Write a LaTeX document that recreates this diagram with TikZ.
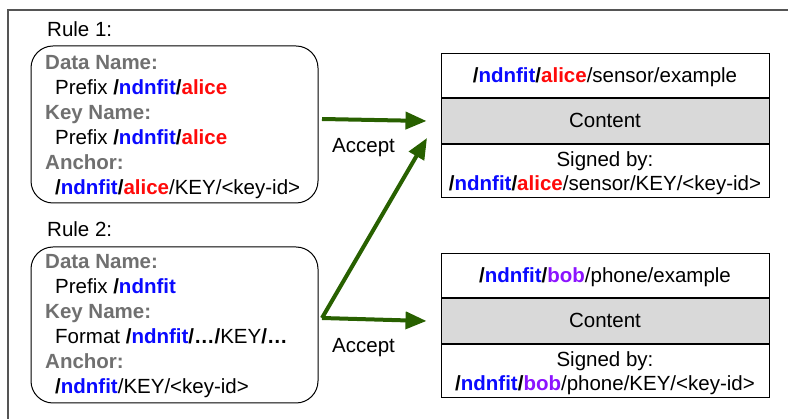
\documentclass[tikz,border=0pt]{standalone}
\usepackage{fontspec}
\setmainfont{Liberation Sans}
\usetikzlibrary{arrows.meta,positioning}
\definecolor{ndblue}{RGB}{10,10,255}
\definecolor{ndred}{RGB}{255,10,10}
\definecolor{ndpurple}{RGB}{140,20,255}
\definecolor{labelgray}{RGB}{112,112,112}
\definecolor{framegray}{RGB}{85,85,85}
\definecolor{acceptgreen}{RGB}{40,96,0}
\definecolor{cellgray}{RGB}{217,217,217}
\newcommand{\bsl}{\textbf{/}}
\newcommand{\ndn}{\textbf{\color{ndblue}ndnfit}}
\newcommand{\alic}{\textbf{\color{ndred}alice}}
\newcommand{\bobb}{\textbf{\color{ndpurple}bob}}
\tikzset{
    txt/.style={anchor=base west, inner sep=0pt, font=\fontsize{20.5}{24}\selectfont},
    lbl/.style={txt, text=labelgray, font=\fontsize{20.5}{24}\selectfont\bfseries},
    rulebox/.style={draw, rounded corners=22pt, line width=1pt, minimum width=287pt, minimum height=157pt},
    cell/.style={draw, line width=1pt, minimum width=328pt, inner sep=0pt, font=\fontsize{20.5}{24}\selectfont},
    onecell/.style={cell, text height=15pt, text depth=1pt},
    accept/.style={acceptgreen, line width=4pt, -{Triangle[length=21pt,width=17pt]}},
}
\begin{document}
\begin{tikzpicture}[x=1pt, y=-1pt]
\useasboundingbox (0,0) rectangle (788,419);
\draw[framegray, line width=1.2pt] (8,419) -- (8,10) -- (788,10);

% Rule 1
\node[txt] (title1) at (47,37) {Rule 1:};
\node[rulebox] (rule1) at (174.5,124.5) {};
\node[lbl] (dn1) at (45,70) {Data Name:};
\node[txt] (dp1) at (55,95) {Prefix \bsl\ndn\bsl\alic};
\node[lbl] (kn1) at (45,120) {Key Name:};
\node[txt] (kp1) at (55,145) {Prefix \bsl\ndn\bsl\alic};
\node[lbl] (an1) at (45,170) {Anchor:};
\node[txt] (ak1) at (55,195) {\bsl\ndn\bsl\alic/KEY/<key-id>};

% Rule 2
\node[txt] (title2) at (47,237) {Rule 2:};
\node[rulebox, minimum height=156pt] (rule2) at (174.5,325) {};
\node[lbl] (dn2) at (45,269) {Data Name:};
\node[txt] (dp2) at (55,294) {Prefix \bsl\ndn};
\node[lbl] (kn2) at (45,319) {Key Name:};
\node[txt] (kp2) at (55,344) {Format \bsl\ndn\textbf{/…/}KEY\textbf{/…}};
\node[lbl] (an2) at (45,369) {Anchor:};
\node[txt] (ak2) at (55,394) {\bsl\ndn/KEY/<key-id>};

% data packets
\node[onecell, anchor=north, minimum height=44pt] (hdrA) at (605,53) {\bsl\ndn\bsl\alic/sensor/example};
\node[onecell, fill=cellgray, minimum height=45pt, below=0pt of hdrA] (cntA) {Content};
\node[cell, align=center, minimum height=53pt, below=0pt of cntA] (sigA) {\rule{0pt}{19pt}Signed by:\\\bsl\ndn\bsl\alic/sensor/KEY/<key-id>};

\node[onecell, anchor=north, minimum height=44pt] (hdrB) at (605,253) {\bsl\ndn\bsl\bobb/phone/example};
\node[onecell, fill=cellgray, minimum height=45pt, below=0pt of hdrB] (cntB) {Content};
\node[cell, align=center, minimum height=53pt, below=0pt of cntB] (sigB) {\rule{0pt}{19pt}Signed by:\\\bsl\ndn\bsl\bobb/phone/KEY/<key-id>};

% arrows
\coordinate (from1) at (322,119);
\coordinate (from2) at (322,318);
\coordinate (to1) at ([xshift=-14pt]cntA.west);
\coordinate (to2) at (427,138);
\coordinate (to3) at ([xshift=-14pt]cntB.west);
\draw[accept] (from1) -- (to1);
\draw[accept] (from2) -- (to2);
\draw[accept] (from2) -- (to3);
\node[txt] (acc1) at (332,153) {Accept};
\node[txt] (acc2) at (332,353) {Accept};
\end{tikzpicture}
\end{document}
